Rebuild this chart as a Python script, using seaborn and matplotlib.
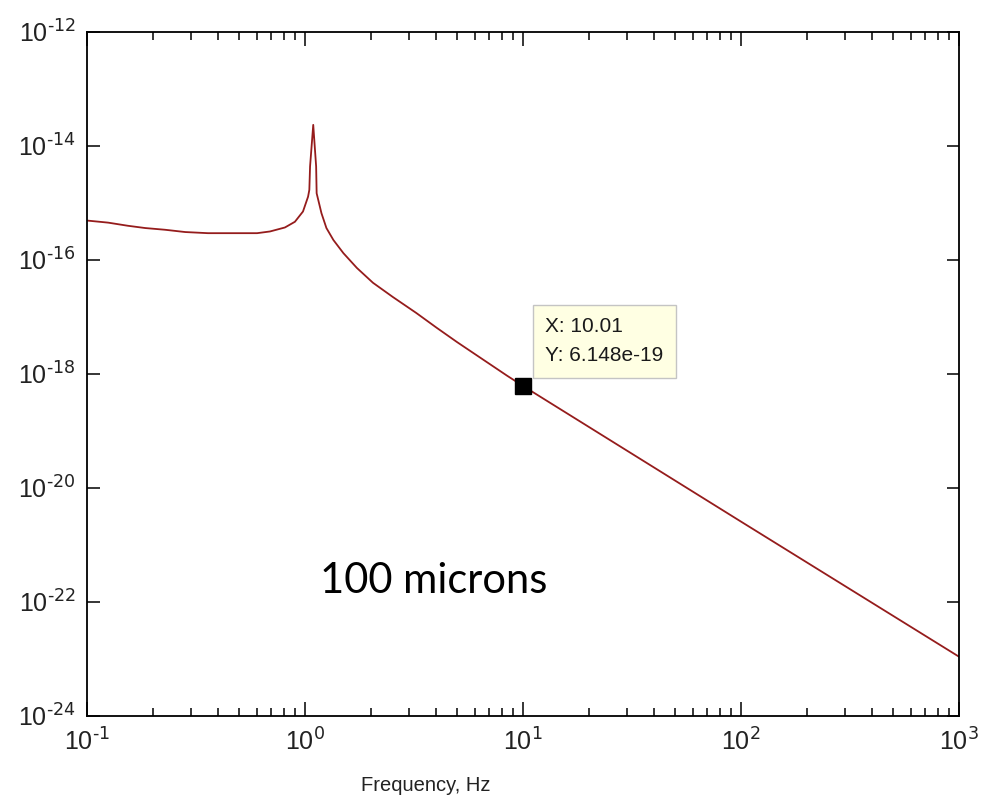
import numpy as np
import pandas as pd
import matplotlib
matplotlib.use('Agg')
import matplotlib.pyplot as plt
import matplotlib.ticker as mticker
import seaborn as sns

# values
freq_hz = [0.101, 0.125, 0.154, 0.185, 0.228, 0.282, 0.359, 0.477, 0.603, 0.691, 0.809,
           0.899, 0.979, 1.033, 1.047, 1.055, 1.091, 1.125, 1.131, 1.19, 1.254, 1.35,
           1.50, 1.73, 2.05, 2.53, 3.24, 4.02, 4.98, 8.45, 10.01, 100.0, 1000.0]
psd_log10 = [-15.31, -15.345, -15.40, -15.44, -15.47, -15.51, -15.53, -15.53, -15.53,
             -15.50, -15.43, -15.33, -15.15, -14.89, -14.77, -14.36, -13.63, -14.36,
             -14.83, -15.18, -15.44, -15.65, -15.88, -16.14, -16.40, -16.65, -16.93,
             -17.19, -17.44, -18.03, -18.2113, -20.59, -22.96]
tip_x = 10.01
tip_y = 6.148e-19
y_ticks = [1e-24, 1e-22, 1e-20, 1e-18, 1e-16, 1e-14, 1e-12]
note = '100 microns'
x_label = 'Frequency, Hz'

sns.set_style('white')
plt.rcParams['font.family'] = ['Liberation Sans', 'DejaVu Sans']
plt.rcParams['mathtext.default'] = 'regular'
plt.rcParams['axes.unicode_minus'] = False


def pow10_label(val, pos):
    # matlab style: 10 with a small hyphen exponent
    exp = int(round(np.log10(val)))
    return r'$10^{\text{%d}}$' % exp


df = pd.DataFrame({'freq': freq_hz, 'psd': np.power(10.0, psd_log10)})

fig = plt.figure(figsize=(9.84, 7.99), dpi=100)
ax = fig.add_axes([0.0884, 0.1039, 0.8862, 0.8561])
ax.set_xscale('log')
ax.set_yscale('log')

sns.lineplot(data=df, x='freq', y='psd', ax=ax, color='#951c1c', linewidth=1.3,
             estimator=None, sort=False)
ax.plot([tip_x], [tip_y], marker='s', markersize=11, color='black', linestyle='none')

ax.annotate(f'X: {tip_x:.2f}\nY: {tip_y:.3e}',
            xy=(tip_x, tip_y), xytext=(22, 21), textcoords='offset pixels',
            ha='left', va='bottom', fontsize=15, linespacing=1.65, color='#1a1a1a',
            bbox=dict(boxstyle='square,pad=0.6', facecolor='#ffffe3', edgecolor='#c4c4c4', linewidth=1))

ax.set_xlim(0.1, 1000)
ax.set_ylim(1e-24, 1e-12)
ax.set_yticks(y_ticks)
ax.yaxis.set_minor_locator(mticker.NullLocator())
ax.xaxis.set_major_locator(mticker.LogLocator(base=10))
ax.xaxis.set_minor_locator(mticker.LogLocator(base=10, subs=np.arange(2, 10)))
ax.xaxis.set_minor_formatter(mticker.NullFormatter())
ax.xaxis.set_major_formatter(mticker.FuncFormatter(pow10_label))
ax.yaxis.set_major_formatter(mticker.FuncFormatter(pow10_label))

ax.tick_params(axis='both', which='both', direction='in', top=True, right=True,
               bottom=True, left=True, colors='black', width=1.1)
ax.tick_params(axis='both', which='major', labelcolor='#222222')
ax.tick_params(axis='x', which='major', length=10, labelsize=18, pad=9)
ax.tick_params(axis='x', which='minor', length=6)
ax.tick_params(axis='y', which='major', length=9, labelsize=18, pad=8)
for side in ax.spines.values():
    side.set_color('black')
    side.set_linewidth(1.3)

ax.set_ylabel('')
ax.set_xlabel(x_label, fontsize=14.5, color='#222222')
ax.xaxis.set_label_coords(0.388, -0.088)

ax.text(0.398, 0.18, note, transform=ax.transAxes, ha='center', va='baseline',
        fontsize=30, family=['Lato', 'DejaVu Sans'], color='black')

fig.savefig('out.png', dpi=100, facecolor='white')
